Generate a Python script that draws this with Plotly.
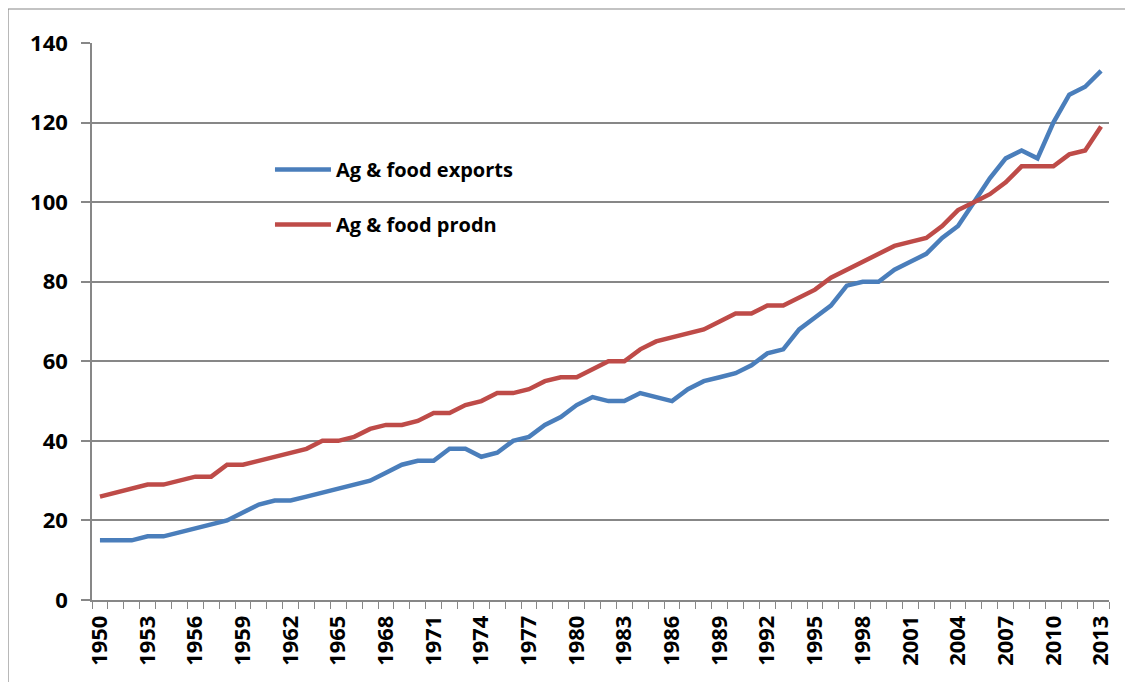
import plotly.graph_objects as go

years = list(range(1950, 2014))

exports = [
    15, 15, 15, 16, 16, 17, 18, 19, 20, 22,
    24, 25, 25, 26, 27, 28, 29, 30, 32, 34,
    35, 35, 38, 38, 36, 37, 40, 41, 44, 46,
    49, 51, 50, 50, 52, 51, 50, 53, 55, 56,
    57, 59, 62, 63, 68, 71, 74, 79, 80, 80,
    83, 85, 87, 91, 94, 100, 106, 111, 113, 111,
    120, 127, 129, 133,
]

prodn = [
    26, 27, 28, 29, 29, 30, 31, 31, 34, 34,
    35, 36, 37, 38, 40, 40, 41, 43, 44, 44,
    45, 47, 47, 49, 50, 52, 52, 53, 55, 56,
    56, 58, 60, 60, 63, 65, 66, 67, 68, 70,
    72, 72, 74, 74, 76, 78, 81, 83, 85, 87,
    89, 90, 91, 94, 98, 100, 102, 105, 109, 109,
    109, 112, 113, 119,
]

tick_years = years[::3]

_BLUE = "#4A7EBB"
_RED = "#BE4B48"
_GRID = "#878787"
_FONT = "Open Sans"

fig = go.Figure()
fig.add_trace(
    go.Scatter(
        x=years, y=exports, mode="lines", name="Ag & food exports",
        line=dict(color=_BLUE, width=4.5), legendgroup="a",
    )
)
fig.add_trace(
    go.Scatter(
        x=years, y=prodn, mode="lines", name="Ag & food prodn",
        line=dict(color=_RED, width=4.5), legendgroup="b",
    )
)

# outer chart border (top and left edges visible in the original)
fig.add_shape(type="line", xref="paper", yref="paper",
              x0=-0.0826, x1=1.04, y0=1.061, y1=1.061,
              line=dict(color=_GRID, width=1.2))
fig.add_shape(type="line", xref="paper", yref="paper",
              x0=-0.0826, x1=-0.0826, y0=1.061, y1=-0.2,
              line=dict(color=_GRID, width=1.2))

# the page body adds an 8px offset, margins compensate for it
fig.update_layout(
    width=1133,
    height=682,
    margin=dict(l=84, r=32, t=35, b=90),
    plot_bgcolor="white",
    paper_bgcolor="white",
    font=dict(family=_FONT, color="black"),
    showlegend=True,
    legend=dict(
        x=0.175, y=0.808, xanchor="left", yanchor="top",
        bgcolor="rgba(0,0,0,0)",
        font=dict(size=20, family=_FONT, weight="bold"),
        traceorder="grouped", tracegroupgap=26,
        itemwidth=56,
    ),
    xaxis=dict(
        range=[1949.5, 2013.5],
        tickmode="array", tickvals=tick_years,
        ticktext=[str(y) for y in tick_years],
        tickangle=-90,
        ticks="", showgrid=False,
        showline=True, linecolor=_GRID, linewidth=1.5,
        tickfont=dict(size=22, family=_FONT, weight="bold"),
        ticklabelstandoff=5,
        minor=dict(tickmode="linear", tick0=1949.5, dtick=1,
                   ticks="outside", ticklen=7, tickcolor=_GRID, tickwidth=1.2,
                   showgrid=False),
        zeroline=False,
        automargin=False,
    ),
    yaxis=dict(
        range=[0, 140], dtick=20,
        ticks="outside", ticklen=9, tickcolor=_GRID, tickwidth=1.5,
        showgrid=True, gridcolor=_GRID, gridwidth=1.5,
        showline=True, linecolor=_GRID, linewidth=1.5,
        tickfont=dict(size=22, family=_FONT, weight="bold"),
        ticklabelstandoff=9,
        zeroline=False,
        automargin=False,
    ),
)

fig.write_html("out.html")
